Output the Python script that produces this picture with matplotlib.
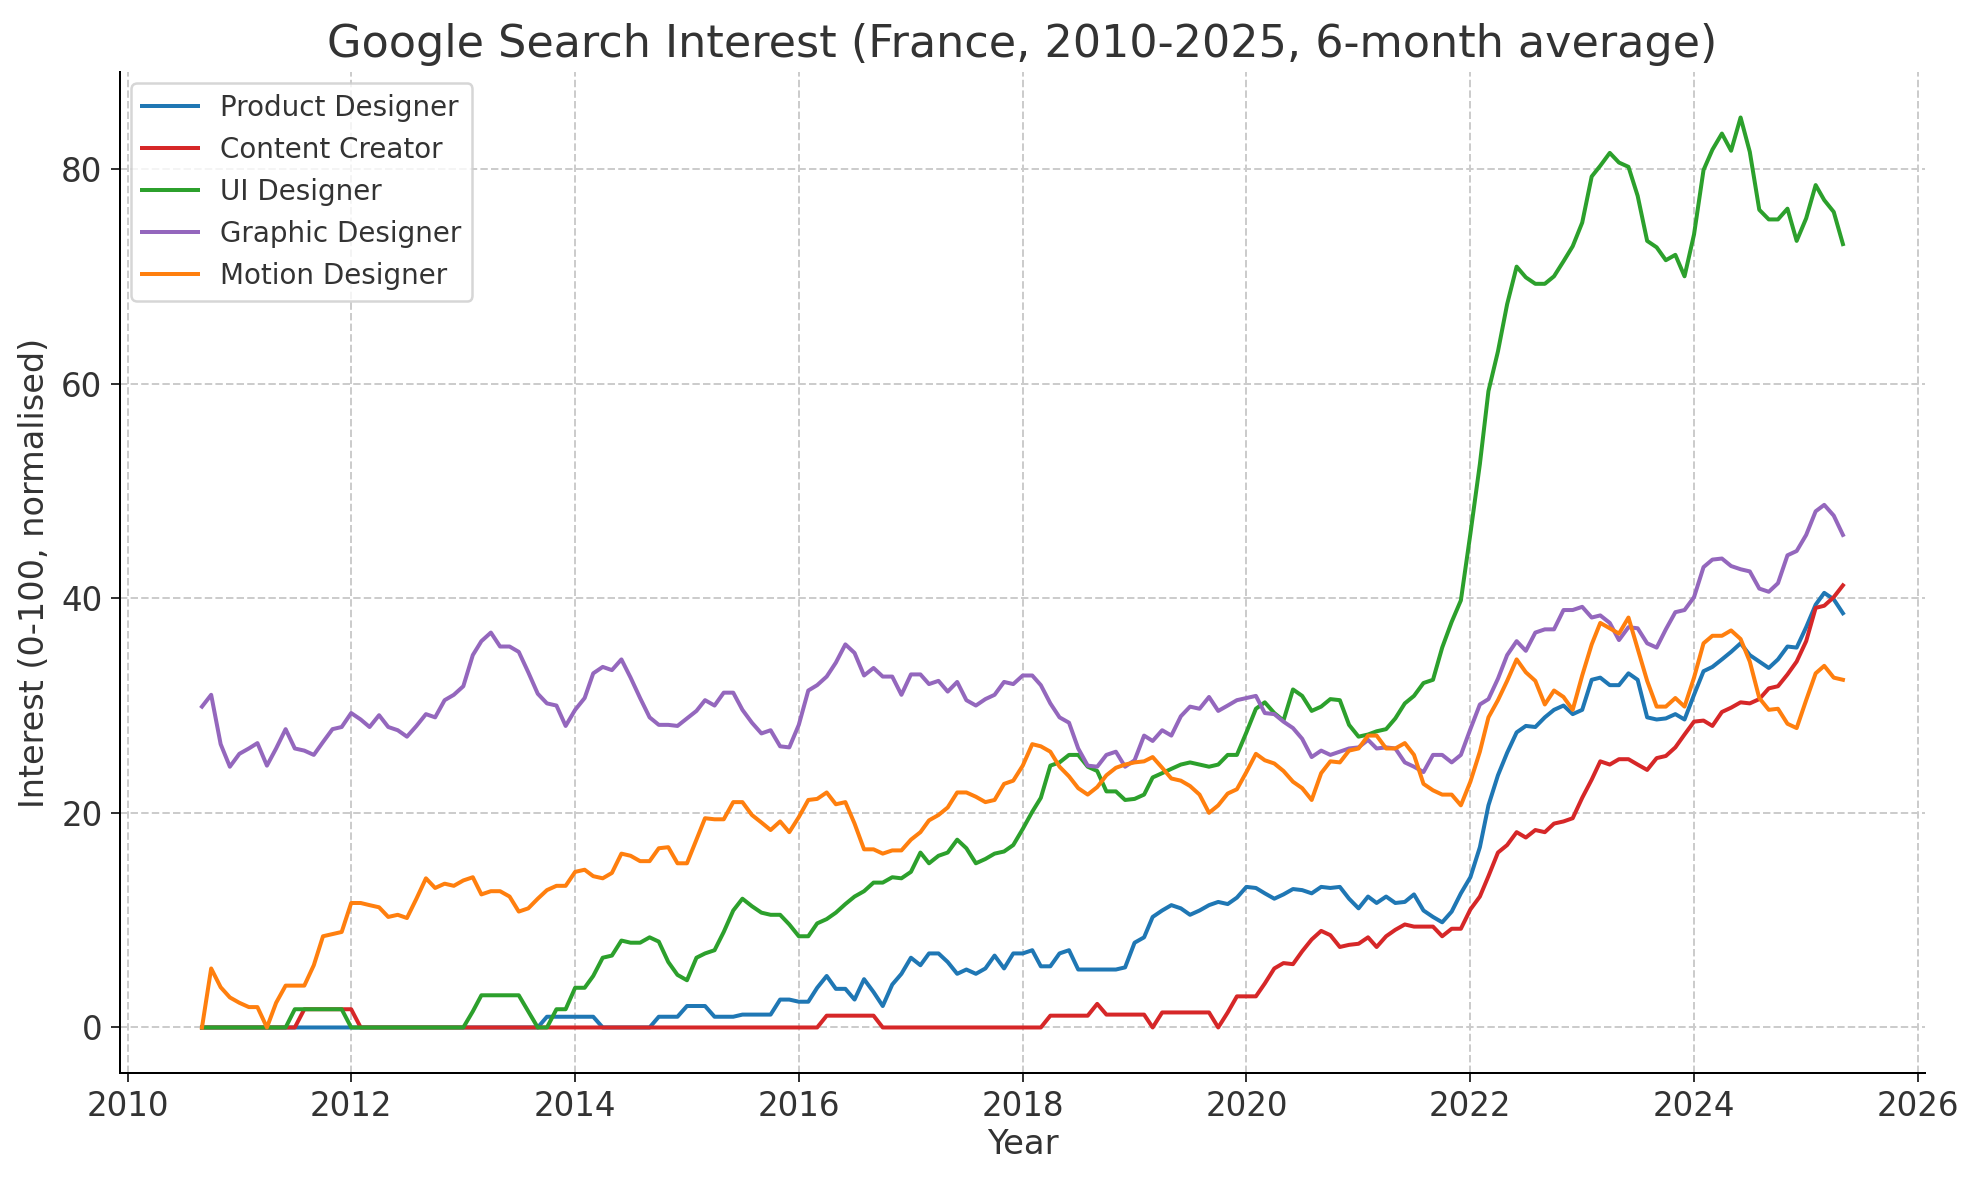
import matplotlib
matplotlib.use('Agg')
import matplotlib.pyplot as plt
import matplotlib.dates as mdates
import pandas as pd

# monthly points, Sep 2010 .. May 2025 (6-month average of Google Trends)
dates = pd.date_range('2010-09-01', '2025-05-01', freq='MS')

product_designer = [
    0, 0, 0, 0,
    0, 0, 0, 0, 0, 0, 0, 0, 0, 0, 0, 0,
    0, 0, 0, 0, 0, 0, 0, 0, 0, 0, 0, 0,
    0, 0, 0, 0, 0, 0, 0, 0, 0, 1, 1, 1,
    1, 1, 1, 0, 0, 0, 0, 0, 0, 1, 1, 1,
    2, 2, 2, 1, 1, 1, 1.2, 1.2, 1.2, 1.2, 2.6, 2.6,
    2.4, 2.4, 3.7, 4.8, 3.6, 3.6, 2.6, 4.5, 3.3, 2.0, 4.0, 5.0,
    6.5, 5.8, 6.9, 6.9, 6.1, 5.0, 5.4, 5.0, 5.5, 6.7, 5.5, 6.9,
    6.9, 7.2, 5.7, 5.7, 6.9, 7.2, 5.4, 5.4, 5.4, 5.4, 5.4, 5.6,
    7.9, 8.4, 10.3, 10.9, 11.4, 11.1, 10.5, 10.9, 11.4, 11.7, 11.5, 12.1,
    13.1, 13.0, 12.5, 12.0, 12.4, 12.9, 12.8, 12.5, 13.1, 13.0, 13.1, 12.0,
    11.1, 12.2, 11.6, 12.2, 11.6, 11.7, 12.4, 10.9, 10.3, 9.8, 10.8, 12.5,
    14.0, 16.8, 20.7, 23.5, 25.6, 27.5, 28.1, 28.0, 28.9, 29.6, 30.0, 29.2,
    29.6, 32.4, 32.6, 31.9, 31.9, 33.0, 32.4, 28.9, 28.7, 28.8, 29.2, 28.7,
    31.0, 33.2, 33.6, 34.3, 35.0, 35.8, 34.7, 34.1, 33.5, 34.3, 35.5, 35.4,
    37.3, 39.4, 40.5, 39.9, 38.6,
]

content_creator = [
    0, 0, 0, 0,
    0, 0, 0, 0, 0, 0, 0, 1.7, 1.7, 1.7, 1.7, 1.7,
    1.7, 0, 0, 0, 0, 0, 0, 0, 0, 0, 0, 0,
    0, 0, 0, 0, 0, 0, 0, 0, 0, 0, 0, 0,
    0, 0, 0, 0, 0, 0, 0, 0, 0, 0, 0, 0,
    0, 0, 0, 0, 0, 0, 0, 0, 0, 0, 0, 0,
    0, 0, 0, 1.1, 1.1, 1.1, 1.1, 1.1, 1.1, 0, 0, 0,
    0, 0, 0, 0, 0, 0, 0, 0, 0, 0, 0, 0,
    0, 0, 0, 1.1, 1.1, 1.1, 1.1, 1.1, 2.2, 1.2, 1.2, 1.2,
    1.2, 1.2, 0, 1.4, 1.4, 1.4, 1.4, 1.4, 1.4, 0, 1.4, 2.9,
    2.9, 2.9, 4.1, 5.5, 6.0, 5.9, 7.1, 8.2, 9.0, 8.6, 7.5, 7.7,
    7.8, 8.4, 7.5, 8.5, 9.1, 9.6, 9.4, 9.4, 9.4, 8.5, 9.2, 9.2,
    11.0, 12.2, 14.1, 16.3, 17.0, 18.2, 17.7, 18.4, 18.2, 19.0, 19.2, 19.5,
    21.4, 23.1, 24.8, 24.5, 25.0, 25.0, 24.5, 24.0, 25.1, 25.3, 26.1, 27.3,
    28.5, 28.6, 28.1, 29.4, 29.8, 30.3, 30.2, 30.6, 31.6, 31.8, 32.9, 34.1,
    36.0, 39.1, 39.3, 40.1, 41.2,
]

ui_designer = [
    0, 0, 0, 0,
    0, 0, 0, 0, 0, 0, 1.7, 1.7, 1.7, 1.7, 1.7, 1.7,
    0, 0, 0, 0, 0, 0, 0, 0, 0, 0, 0, 0,
    0, 1.5, 3.0, 3.0, 3.0, 3.0, 3.0, 1.5, 0, 0, 1.7, 1.7,
    3.7, 3.7, 4.8, 6.5, 6.7, 8.1, 7.9, 7.9, 8.4, 8.0, 6.1, 4.9,
    4.4, 6.5, 6.9, 7.2, 8.9, 10.9, 12.0, 11.3, 10.7, 10.5, 10.5, 9.6,
    8.5, 8.5, 9.7, 10.1, 10.7, 11.5, 12.2, 12.7, 13.5, 13.5, 14.0, 13.9,
    14.5, 16.3, 15.3, 16.0, 16.3, 17.5, 16.7, 15.3, 15.7, 16.2, 16.4, 17.0,
    18.5, 20.1, 21.4, 24.4, 24.7, 25.4, 25.4, 24.3, 23.9, 22.0, 22.0, 21.2,
    21.3, 21.7, 23.3, 23.7, 24.1, 24.5, 24.7, 24.5, 24.3, 24.5, 25.4, 25.4,
    27.5, 29.7, 30.3, 29.3, 28.6, 31.5, 30.9, 29.5, 29.9, 30.6, 30.5, 28.2,
    27.1, 27.3, 27.6, 27.8, 28.8, 30.2, 30.9, 32.1, 32.4, 35.4, 37.8, 39.8,
    46.0, 52.5, 59.3, 63.0, 67.4, 70.9, 69.9, 69.3, 69.3, 70.0, 71.4, 72.8,
    75.0, 79.3, 80.3, 81.5, 80.6, 80.2, 77.5, 73.3, 72.7, 71.5, 72.0, 70.0,
    73.9, 79.9, 81.8, 83.3, 81.7, 84.8, 81.6, 76.2, 75.3, 75.3, 76.3, 73.3,
    75.4, 78.5, 77.1, 76.0, 73.0,
]

graphic_designer = [
    29.9, 31.0, 26.4, 24.3,
    25.5, 26.0, 26.5, 24.4, 26.0, 27.8, 26.0, 25.8, 25.4, 26.6, 27.8, 28.0,
    29.3, 28.7, 28.0, 29.1, 28.0, 27.7, 27.1, 28.1, 29.2, 28.9, 30.5, 31.0,
    31.8, 34.7, 36.0, 36.8, 35.5, 35.5, 35.0, 33.1, 31.1, 30.2, 30.0, 28.1,
    29.6, 30.7, 33.0, 33.6, 33.3, 34.3, 32.6, 30.7, 28.9, 28.2, 28.2, 28.1,
    28.8, 29.5, 30.5, 30.0, 31.2, 31.2, 29.6, 28.4, 27.4, 27.7, 26.2, 26.1,
    28.2, 31.4, 31.9, 32.7, 34.0, 35.7, 34.9, 32.8, 33.5, 32.7, 32.7, 31.0,
    32.9, 32.9, 32.0, 32.3, 31.3, 32.2, 30.5, 30.0, 30.6, 31.0, 32.2, 32.0,
    32.8, 32.8, 31.9, 30.2, 28.9, 28.4, 26.0, 24.4, 24.3, 25.4, 25.7, 24.3,
    24.9, 27.2, 26.7, 27.7, 27.2, 29.0, 29.9, 29.7, 30.8, 29.5, 30.0, 30.5,
    30.7, 30.9, 29.3, 29.2, 28.5, 27.9, 26.9, 25.2, 25.8, 25.4, 25.7, 26.0,
    26.1, 26.8, 26.0, 26.1, 26.0, 24.7, 24.3, 23.8, 25.4, 25.4, 24.7, 25.4,
    27.8, 30.1, 30.6, 32.5, 34.7, 36.0, 35.1, 36.8, 37.1, 37.1, 38.9, 38.9,
    39.2, 38.2, 38.4, 37.7, 36.1, 37.3, 37.2, 35.8, 35.4, 37.1, 38.7, 38.9,
    40.1, 42.9, 43.6, 43.7, 43.0, 42.7, 42.5, 40.9, 40.6, 41.4, 44.0, 44.4,
    45.9, 48.1, 48.7, 47.7, 45.9,
]

motion_designer = [
    0, 5.5, 3.75, 2.8,
    2.3, 1.9, 1.9, 0, 2.3, 3.9, 3.9, 3.9, 5.8, 8.5, 8.7, 8.9,
    11.6, 11.6, 11.4, 11.2, 10.3, 10.5, 10.2, 12.0, 13.9, 13.0, 13.4, 13.2,
    13.7, 14.0, 12.4, 12.7, 12.7, 12.2, 10.8, 11.1, 12.0, 12.8, 13.2, 13.2,
    14.5, 14.7, 14.1, 13.9, 14.4, 16.2, 16.0, 15.5, 15.5, 16.7, 16.8, 15.3,
    15.3, 17.5, 19.5, 19.4, 19.4, 21.0, 21.0, 19.8, 19.1, 18.4, 19.2, 18.2,
    19.6, 21.2, 21.3, 21.9, 20.8, 21.0, 19.0, 16.6, 16.6, 16.2, 16.5, 16.5,
    17.5, 18.2, 19.3, 19.8, 20.5, 21.9, 21.9, 21.5, 21.0, 21.2, 22.7, 23.0,
    24.4, 26.4, 26.2, 25.7, 24.3, 23.4, 22.3, 21.7, 22.4, 23.5, 24.2, 24.5,
    24.7, 24.8, 25.2, 24.2, 23.2, 23.0, 22.5, 21.7, 20.0, 20.7, 21.8, 22.2,
    23.8, 25.5, 24.9, 24.6, 23.9, 22.9, 22.3, 21.2, 23.7, 24.8, 24.7, 25.8,
    26.0, 27.2, 27.2, 26.0, 26.0, 26.5, 25.4, 22.7, 22.1, 21.7, 21.7, 20.7,
    22.9, 25.7, 28.9, 30.5, 32.3, 34.3, 33.1, 32.3, 30.1, 31.4, 30.8, 29.6,
    32.8, 35.7, 37.7, 37.2, 36.7, 38.2, 35.3, 32.3, 29.9, 29.9, 30.7, 29.9,
    32.6, 35.8, 36.5, 36.5, 37.0, 36.2, 34.1, 30.7, 29.6, 29.7, 28.3, 27.9,
    30.5, 33.0, 33.7, 32.6, 32.4,
]

series = [
    ('Product Designer', product_designer, '#1f77b4'),
    ('Content Creator', content_creator, '#d62728'),
    ('UI Designer', ui_designer, '#2ca02c'),
    ('Graphic Designer', graphic_designer, '#9467bd'),
    ('Motion Designer', motion_designer, '#ff7f0e'),
]

text_col = '#333333'
plt.rcParams['text.color'] = text_col
plt.rcParams['axes.labelcolor'] = text_col
plt.rcParams['xtick.color'] = text_col
plt.rcParams['ytick.color'] = text_col

fig, ax = plt.subplots(figsize=(1979 / 180, 1180 / 180), dpi=180)
fig.subplots_adjust(left=0.0606, right=0.9727, top=0.939, bottom=0.0907)

for name, vals, col in series:
    ax.plot(dates, vals, color=col, linewidth=1.6, label=name)

ax.set_title('Google Search Interest (France, 2010-2025, 6-month average)', fontsize=17.8)
ax.set_xlabel('Year', fontsize=13.5, labelpad=2)
ax.set_ylabel('Interest (0-100, normalised)', fontsize=13.4)
ax.tick_params(labelsize=13)

ax.xaxis.set_major_locator(mdates.YearLocator(2))
ax.xaxis.set_major_formatter(mdates.DateFormatter('%Y'))

ax.grid(True, linestyle='--', color='#cccccc', linewidth=0.8)
ax.spines['top'].set_visible(False)
ax.spines['right'].set_visible(False)

ax.legend(loc='upper left', fontsize=11.1, borderaxespad=0.4)

fig.savefig('out.png', dpi=180)
